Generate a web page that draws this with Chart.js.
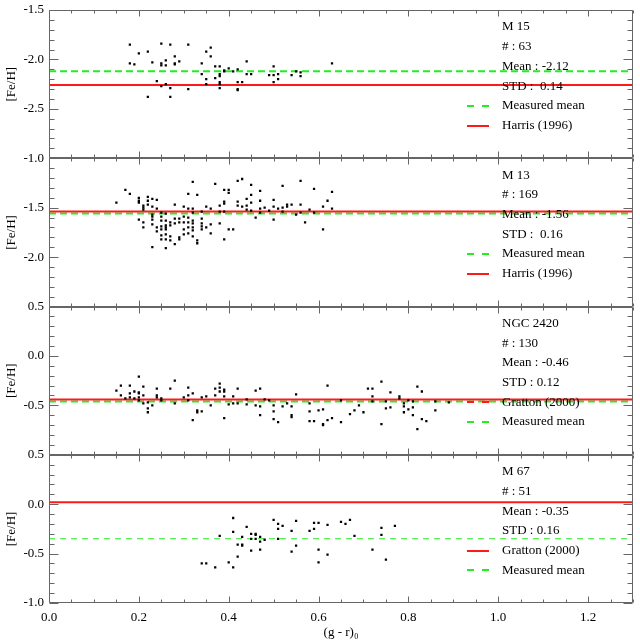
<!DOCTYPE html>
<html>
<head>
<meta charset="utf-8">
<script src="https://cdn.jsdelivr.net/npm/chart.js@4.4.1/dist/chart.umd.min.js"></script>
<style>
html, body { margin: 0; padding: 0; background: #fff; }
#wrap { width: 640px; height: 640px; }
</style>
</head>
<body>
<div id="wrap"><canvas id="chart" width="640" height="640"></canvas></div>
<script>
// stars per cluster, [ (g-r)0 , [Fe/H] ]
var m15 = [[0.18,-1.85],[0.18,-2.04],[0.19,-2.05],[0.20,-1.94],[0.22,-1.92],[0.23,-2.03],[0.24,-2.22],[0.25,-1.84],
  [0.25,-2.04],[0.25,-2.06],[0.25,-2.27],[0.26,-2.01],[0.26,-2.06],[0.26,-2.25],[0.27,-1.85],[0.27,-2.29],[0.27,-2.38],
  [0.28,-1.97],[0.28,-2.04],[0.28,-2.05],[0.29,-2.02],[0.31,-1.85],[0.31,-2.30],[0.22,-2.38],[0.34,-2.04],[0.34,-2.15],
  [0.35,-1.92],[0.35,-2.20],[0.35,-2.25],[0.36,-1.88],[0.36,-1.97],[0.37,-2.07],[0.37,-2.19],[0.38,-2.07],[0.38,-2.15],
  [0.38,-2.17],[0.38,-2.23],[0.38,-2.25],[0.38,-2.29],[0.39,-2.11],[0.39,-2.12],[0.40,-2.09],[0.41,-2.12],[0.42,-2.10],
  [0.42,-2.23],[0.42,-2.30],[0.42,-2.31],[0.43,-2.23],[0.44,-2.02],[0.44,-2.15],[0.45,-2.15],[0.49,-2.16],[0.50,-2.07],
  [0.50,-2.16],[0.50,-2.23],[0.51,-2.15],[0.51,-2.20],[0.54,-2.16],[0.55,-2.12],[0.56,-2.13],[0.56,-2.17],[0.63,-2.04]];

var m13 = [[0.15,-1.45],[0.17,-1.32],[0.18,-1.36],[0.20,-1.40],[0.20,-1.43],[0.20,-1.45],[0.21,-1.48],[0.21,-1.50],
  [0.21,-1.52],[0.22,-1.39],[0.22,-1.43],[0.22,-1.47],[0.23,-1.41],[0.23,-1.49],[0.24,-1.42],[0.24,-1.51],[0.20,-1.62],
  [0.21,-1.65],[0.21,-1.70],[0.23,-1.57],[0.23,-1.59],[0.23,-1.62],[0.23,-1.67],[0.23,-1.90],[0.24,-1.70],[0.24,-1.74],
  [0.25,-1.55],[0.25,-1.59],[0.25,-1.63],[0.25,-1.69],[0.25,-1.72],[0.25,-1.78],[0.25,-1.82],[0.26,-1.56],[0.26,-1.63],
  [0.26,-1.68],[0.26,-1.70],[0.26,-1.72],[0.26,-1.77],[0.26,-1.82],[0.26,-1.91],[0.27,-1.65],[0.27,-1.68],[0.27,-1.79],
  [0.27,-1.83],[0.28,-1.47],[0.28,-1.61],[0.28,-1.66],[0.28,-1.87],[0.29,-1.61],[0.29,-1.65],[0.29,-1.80],[0.29,-1.82],
  [0.30,-1.49],[0.30,-1.59],[0.30,-1.65],[0.30,-1.72],[0.30,-1.77],[0.31,-1.36],[0.31,-1.51],[0.31,-1.60],[0.31,-1.65],
  [0.31,-1.70],[0.31,-1.76],[0.32,-1.24],[0.32,-1.51],[0.32,-1.55],[0.32,-1.63],[0.32,-1.66],[0.32,-1.70],[0.32,-1.73],
  [0.32,-1.79],[0.33,-1.37],[0.33,-1.83],[0.33,-1.86],[0.34,-1.54],[0.34,-1.61],[0.34,-1.66],[0.34,-1.69],[0.34,-1.72],
  [0.35,-1.49],[0.35,-1.70],[0.36,-1.51],[0.36,-1.67],[0.36,-1.76],[0.37,-1.26],[0.38,-1.48],[0.38,-1.54],[0.38,-1.66],
  [0.39,-1.32],[0.39,-1.44],[0.39,-1.46],[0.39,-1.54],[0.39,-1.82],[0.40,-1.32],[0.40,-1.35],[0.40,-1.72],[0.41,-1.72],
  [0.42,-1.23],[0.42,-1.44],[0.42,-1.48],[0.43,-1.21],[0.43,-1.49],[0.44,-1.41],[0.44,-1.48],[0.44,-1.52],[0.45,-1.27],
  [0.45,-1.37],[0.45,-1.45],[0.45,-1.53],[0.46,-1.60],[0.47,-1.33],[0.47,-1.43],[0.47,-1.51],[0.47,-1.55],[0.48,-1.50],
  [0.49,-1.53],[0.50,-1.42],[0.50,-1.49],[0.50,-1.62],[0.51,-1.51],[0.52,-1.28],[0.52,-1.50],[0.52,-1.54],[0.53,-1.47],
  [0.53,-1.49],[0.54,-1.47],[0.55,-1.57],[0.56,-1.23],[0.56,-1.47],[0.56,-1.55],[0.57,-1.65],[0.58,-1.52],[0.59,-1.31],
  [0.59,-1.55],[0.61,-1.49],[0.61,-1.72],[0.62,-1.43],[0.63,-1.34],[0.63,-1.51]];

var ngc2420 = [[0.15,-0.35],[0.16,-0.30],[0.16,-0.40],[0.17,-0.43],[0.18,-0.30],[0.18,-0.38],[0.18,-0.42],[0.19,-0.36],
  [0.19,-0.43],[0.20,-0.21],[0.20,-0.37],[0.20,-0.38],[0.20,-0.42],[0.20,-0.45],[0.21,-0.31],[0.21,-0.40],[0.21,-0.48],
  [0.22,-0.47],[0.22,-0.53],[0.22,-0.57],[0.23,-0.50],[0.24,-0.33],[0.24,-0.40],[0.24,-0.42],[0.25,-0.43],[0.25,-0.45],
  [0.27,-0.33],[0.28,-0.25],[0.28,-0.48],[0.30,-0.42],[0.31,-0.32],[0.31,-0.40],[0.31,-0.45],[0.32,-0.38],[0.32,-0.65],
  [0.33,-0.55],[0.33,-0.57],[0.34,-0.42],[0.34,-0.56],[0.35,-0.41],[0.36,-0.50],[0.37,-0.33],[0.37,-0.40],[0.38,-0.28],
  [0.38,-0.32],[0.38,-0.36],[0.39,-0.34],[0.39,-0.36],[0.39,-0.41],[0.39,-0.63],[0.40,-0.49],[0.41,-0.41],[0.41,-0.48],
  [0.42,-0.33],[0.42,-0.48],[0.44,-0.44],[0.44,-0.49],[0.46,-0.35],[0.46,-0.50],[0.47,-0.33],[0.47,-0.51],[0.47,-0.60],
  [0.48,-0.44],[0.49,-0.45],[0.50,-0.50],[0.50,-0.56],[0.50,-0.64],[0.51,-0.67],[0.52,-0.51],[0.53,-0.48],[0.54,-0.51],
  [0.54,-0.60],[0.54,-0.62],[0.55,-0.39],[0.58,-0.48],[0.58,-0.56],[0.58,-0.66],[0.59,-0.66],[0.60,-0.55],[0.61,-0.54],
  [0.61,-0.69],[0.61,-0.70],[0.62,-0.30],[0.62,-0.65],[0.63,-0.63],[0.65,-0.45],[0.65,-0.67],[0.67,-0.59],[0.68,-0.55],
  [0.69,-0.50],[0.70,-0.57],[0.71,-0.33],[0.72,-0.33],[0.72,-0.41],[0.72,-0.46],[0.74,-0.26],[0.74,-0.69],[0.75,-0.46],
  [0.75,-0.53],[0.76,-0.37],[0.76,-0.52],[0.78,-0.41],[0.78,-0.43],[0.79,-0.48],[0.79,-0.51],[0.79,-0.57],[0.80,-0.45],
  [0.80,-0.54],[0.81,-0.46],[0.81,-0.52],[0.81,-0.60],[0.82,-0.31],[0.82,-0.74],[0.83,-0.36],[0.83,-0.64],[0.84,-0.66],
  [0.86,-0.46],[0.86,-0.55],[0.89,-0.47]];

var m67 = [[0.34,-0.60],[0.35,-0.60],[0.37,-0.64],[0.38,-0.32],[0.40,-0.59],[0.41,-0.14],[0.41,-0.28],[0.41,-0.64],
  [0.42,-0.41],[0.42,-0.53],[0.43,-0.33],[0.43,-0.41],[0.43,-0.42],[0.44,-0.23],[0.45,-0.30],[0.45,-0.35],[0.45,-0.47],
  [0.46,-0.30],[0.46,-0.31],[0.46,-0.35],[0.47,-0.33],[0.47,-0.38],[0.47,-0.46],[0.48,-0.36],[0.50,-0.16],[0.51,-0.20],
  [0.51,-0.25],[0.51,-0.35],[0.52,-0.22],[0.54,-0.27],[0.54,-0.48],[0.55,-0.17],[0.55,-0.42],[0.58,-0.27],[0.59,-0.19],
  [0.59,-0.25],[0.60,-0.19],[0.60,-0.46],[0.60,-0.59],[0.62,-0.21],[0.62,-0.51],[0.65,-0.18],[0.66,-0.20],[0.67,-0.16],
  [0.68,-0.32],[0.72,-0.46],[0.74,-0.24],[0.74,-0.31],[0.75,-0.56],[0.77,-0.22]];

var clusters = ['M 15', 'M 13', 'NGC 2420', 'M 67'];
var counts = [63, 169, 130, 51];
var means = [-2.12, -1.56, -0.46, -0.35];
var stds = ['0.14', '0.16', '0.12', '0.16'];
var refNames = ['Harris (1996)', 'Harris (1996)', 'Gratton (2000)', 'Gratton (2000)'];
var refValues = [-2.26, -1.54, -0.44, 0.02];
var yMins = [-3.0, -2.5, -1.0, -1.0];
var yMaxs = [-1.5, -1.0, 0.5, 0.5];
var xMin = 0, xMax = 1.3;

var panels = [m15, m13, ngc2420, m67];
var axisIds = ['y1', 'y2', 'y3', 'y4'];
var SERIF = "'Liberation Serif', 'DejaVu Serif', serif";
var RED = '#ff1a1a';
var GREEN = '#22ee22';

function fmt(v) {
    if (Math.abs(v) < 1e-9) v = 0;
    return Number(v).toFixed(1);
}

var datasets = [];
var scales = {
    x: {
        type: 'linear', min: xMin, max: xMax,
        grid: { display: false, drawTicks: false },
        border: { display: false },
        ticks: { stepSize: 0.2, includeBounds: false, padding: 7, maxRotation: 0, color: '#000',
                 font: { family: SERIF, size: 13 }, callback: function(v) { return fmt(v); } },
        title: { display: true, text: '(g - r)\u2080', color: '#000', font: { family: SERIF, size: 13 },
                 padding: { top: 0, bottom: 0 } },
        afterFit: function(s) { s.height = 37; s.paddingLeft = 0; s.paddingRight = 0; }
    }
};

panels.forEach(function(pts, i) {
    var id = axisIds[i];
    var last = i === panels.length - 1;
    scales[id] = {
        type: 'linear', position: 'left', stack: 'feh', stackWeight: 1, weight: panels.length - i,
        min: yMins[i], max: yMaxs[i],
        grid: { display: false, drawTicks: false },
        border: { display: false },
        ticks: { stepSize: 0.5, padding: 5, color: '#000', font: { family: SERIF, size: 13 },
                 callback: function(v) {
                     if (!last && Math.abs(v - yMins[i]) < 1e-6) return '';
                     return fmt(v);
                 } },
        title: { display: true, text: '[Fe/H]', color: '#000', font: { family: SERIF, size: 13 } },
        afterFit: function(s) { s.width = 49; s.paddingTop = 0; s.paddingBottom = 0; }
    };
    datasets.push({
        type: 'scatter', yAxisID: id,
        data: pts.map(function(p) { return { x: p[0], y: p[1] }; }),
        pointStyle: 'rect', pointRadius: 1.6, backgroundColor: '#000', borderWidth: 0
    });
    datasets.push({
        type: 'line', yAxisID: id,
        data: [{ x: xMin, y: refValues[i] }, { x: xMax, y: refValues[i] }],
        borderColor: RED, borderWidth: 2, pointRadius: 0, fill: false
    });
    datasets.push({
        type: 'line', yAxisID: id,
        data: [{ x: xMin, y: means[i] }, { x: xMax, y: means[i] }],
        borderColor: GREEN, borderWidth: last ? 1.2 : 2, borderDash: last ? [6, 5] : [7, 4],
        pointRadius: 0, fill: false
    });
});

// box, inward ticks on every side, and the text block of each panel
var frame = {
    id: 'frame',
    afterDatasetsDraw: function(chart) {
        var ctx = chart.ctx, area = chart.chartArea, xs = chart.scales.x;
        var l = Math.round(area.left) + 0.5, r = Math.round(area.right) - 0.5;
        ctx.save();
        ctx.strokeStyle = '#666';
        ctx.lineWidth = 1;
        axisIds.forEach(function(id, i) {
            var ys = chart.scales[id];
            var top = Math.round(ys.top) + 0.5, bot = Math.round(ys.bottom) - 0.5;
            ctx.beginPath();
            ctx.rect(l, top, r - l, bot - top);
            for (var k = 0; k <= 15; k++) {
                var py = Math.round(ys.getPixelForValue(yMins[i] + k * 0.1)) + 0.5;
                var len = k % 5 === 0 ? 9 : 5;
                ctx.moveTo(l, py); ctx.lineTo(l + len, py);
                ctx.moveTo(r, py); ctx.lineTo(r - len, py);
            }
            for (var j = 0; j <= 26; j++) {
                var px = Math.round(xs.getPixelForValue(j * 0.05)) + 0.5;
                var tl = j % 4 === 0 ? 6 : 3;
                ctx.moveTo(px, top); ctx.lineTo(px, top + tl);
                ctx.moveTo(px, bot); ctx.lineTo(px, bot - tl);
            }
            ctx.stroke();

            var tx = area.right - 131, sx0 = area.right - 166, sx1 = area.right - 144;
            var lines = [clusters[i], '# : ' + counts[i], 'Mean : ' + means[i].toFixed(2),
                         (i < 2 ? 'STD :  ' : 'STD : ') + stds[i]];
            var legend = i < 2 ? ['Measured mean', refNames[i]] : [refNames[i], 'Measured mean'];
            lines = lines.concat(legend);
            ctx.fillStyle = '#000';
            ctx.font = '13px ' + SERIF;
            ctx.textBaseline = 'middle';
            ctx.textAlign = 'left';
            lines.forEach(function(t, k) {
                ctx.fillText(t, tx, ys.top + 17 + k * 19.7);
            });
            legend.forEach(function(t, k) {
                var y = Math.round(ys.top + 17 + (4 + k) * 19.7);
                ctx.beginPath();
                if (t === 'Measured mean') {
                    ctx.strokeStyle = GREEN; ctx.lineWidth = 2; ctx.setLineDash([7, 8]);
                } else {
                    ctx.strokeStyle = RED; ctx.lineWidth = 2; ctx.setLineDash(i === 2 ? [7, 8] : []);
                }
                ctx.moveTo(sx0, y); ctx.lineTo(sx1, y);
                ctx.stroke();
                ctx.setLineDash([]);
            });
            ctx.strokeStyle = '#666';
            ctx.lineWidth = 1;
        });
        ctx.restore();
    }
};

Chart.defaults.font.family = SERIF;
var chart = new Chart(document.getElementById('chart'), {
    type: 'scatter',
    data: { datasets: datasets },
    options: {
        responsive: false,
        animation: false,
        layout: { padding: { top: 10, right: 7, left: 0, bottom: 0 } },
        plugins: { legend: { display: false }, tooltip: { enabled: false } },
        scales: scales
    },
    plugins: [frame]
});
</script>
</body>
</html>
